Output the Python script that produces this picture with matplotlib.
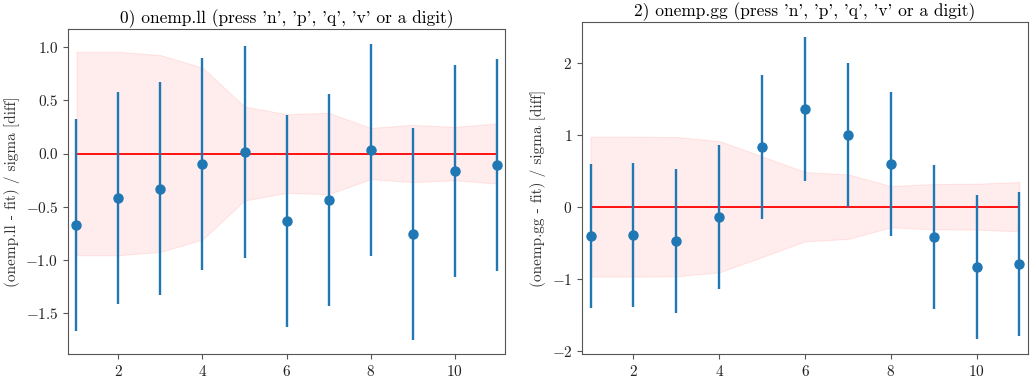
import numpy as np
import matplotlib
matplotlib.use("Agg")
import matplotlib.pyplot as plt

# bin index
x = np.arange(1, 12)

# left panel: onemp.ll residuals and band
ll_vals = [-0.676, -0.42, -0.33, -0.10, 0.016, -0.64, -0.437, 0.035, -0.758, -0.167, -0.107]
ll_err = [1.0] * 11
ll_band = [0.959, 0.959, 0.928, 0.811, 0.443, 0.371, 0.384, 0.242, 0.270, 0.252, 0.283]

# right panel: onemp.gg residuals and band
gg_vals = [-0.412, -0.398, -0.472, -0.144, 0.829, 1.361, 0.991, 0.593, -0.421, -0.838, -0.796]
gg_err = [1.0] * 11
gg_band = [0.972, 0.972, 0.968, 0.912, 0.70, 0.481, 0.449, 0.287, 0.315, 0.319, 0.343]

plt.rcParams['font.family'] = 'cmr10'
plt.rcParams['axes.formatter.use_mathtext'] = True
plt.rcParams['mathtext.fontset'] = 'cm'
plt.rcParams['axes.unicode_minus'] = True

fig = plt.figure(figsize=(10.34, 3.82), dpi=100)
ax1 = fig.add_axes([0.0658, 0.0733, 0.4226, 0.8508])
ax2 = fig.add_axes([0.5629, 0.0733, 0.4313, 0.8691])


def draw(ax, vals, err, band, name, idx, ylim, yticks):
    band = np.array(band)
    ax.fill_between(x, -band, band, color='red', alpha=0.075, lw=0.8)
    ax.plot([x[0], x[-1]], [0, 0], color='red', lw=1.3)
    ax.errorbar(x, vals, yerr=err, fmt='o', color='#1f77b4', elinewidth=1.7,
                markersize=6.5, capsize=0)
    ax.set_xlim(0.8, 11.2)
    ax.set_ylim(*ylim)
    ax.set_yticks(yticks)
    ax.set_xticks([2, 4, 6, 8, 10])
    ax.set_title(f"{idx}) {name} (press 'n', 'p', 'q', 'v' or a digit)", fontsize=12.5, pad=4)
    ax.set_ylabel(f"({name} - fit) / sigma [diff]", fontsize=11, color='#333333')
    for s in ax.spines.values():
        s.set_color('#555555')
    ax.tick_params(colors='#555555', labelcolor='#222222', labelsize=11, length=3.5)


draw(ax1, ll_vals, ll_err, ll_band, 'onemp.ll', 0, (-1.89, 1.174),
     [-1.5, -1.0, -0.5, 0.0, 0.5, 1.0])
ax1.yaxis.set_major_formatter(matplotlib.ticker.FuncFormatter(
    lambda v, p: ('$-$' if v < 0 else '') + f"{abs(v):.1f}"))
draw(ax2, gg_vals, gg_err, gg_band, 'onemp.gg', 2, (-2.046, 2.565),
     [-2, -1, 0, 1, 2])

fig.savefig('out.png', dpi=100)
